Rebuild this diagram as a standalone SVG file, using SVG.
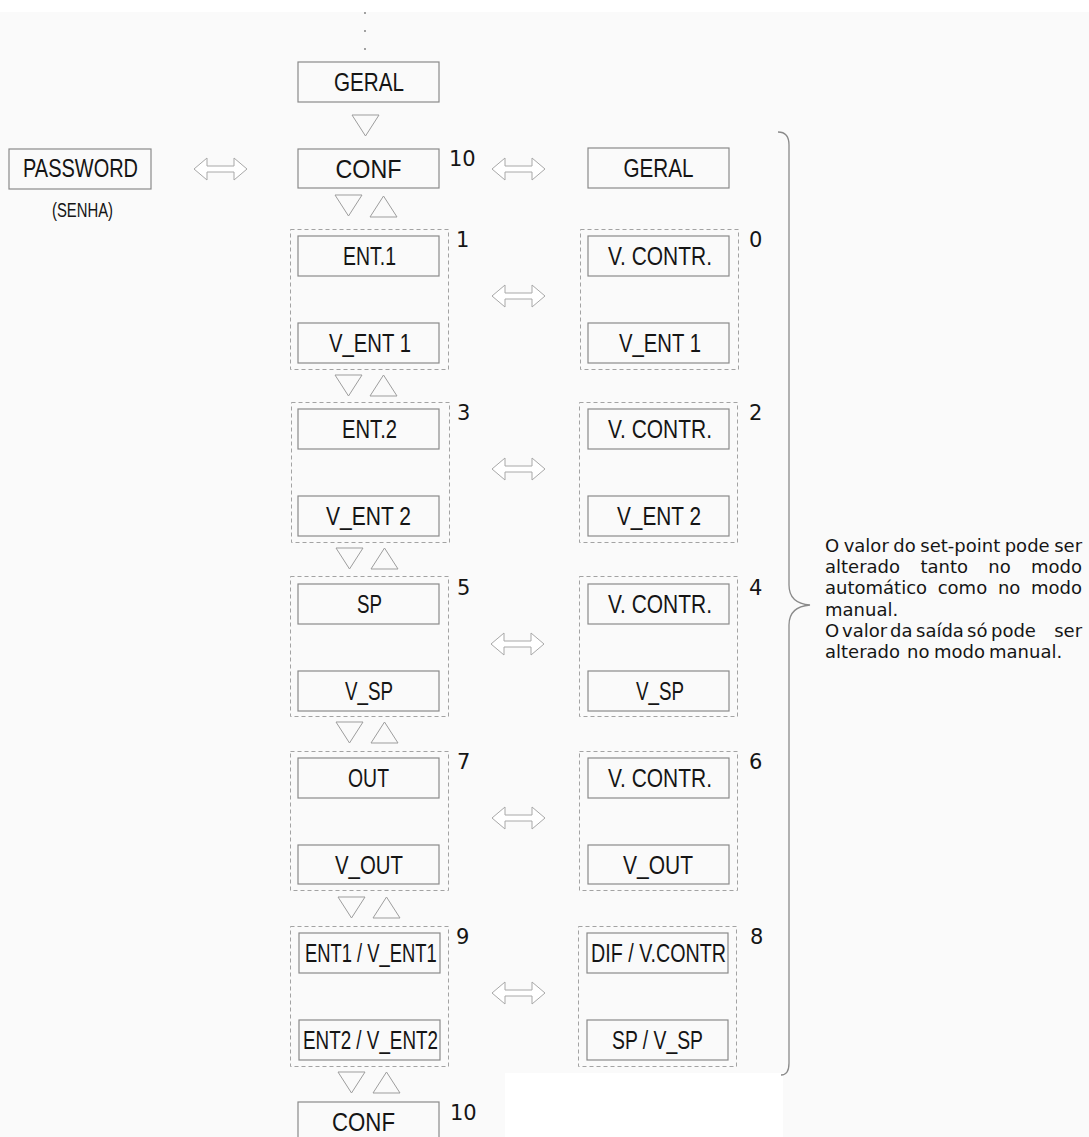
<svg xmlns="http://www.w3.org/2000/svg" width="1089" height="1137" viewBox="0 0 1089 1137">
<style>
.bg{fill:#fafafa}
.box{fill:none;stroke:#8a8a8a;stroke-width:1.2}
.grp{fill:none;stroke:#a3a3a3;stroke-width:1;stroke-dasharray:4 3}
.lbl{font-family:"Liberation Sans",Arial,sans-serif;font-size:25px;fill:#151515}
.sub{font-family:"Liberation Sans",Arial,sans-serif;font-size:20px;fill:#151515}
.num{font-family:"DejaVu Sans",Verdana,sans-serif;font-size:21px;fill:#151515}
.note{font-family:"DejaVu Sans",Verdana,sans-serif;font-size:18px;fill:#151515}
.tri{fill:none;stroke:#9d9d9d;stroke-width:1}
.dbl{fill:#ffffff;stroke:#a8a8a8;stroke-width:1}
.brace{fill:none;stroke:#8a8a8a;stroke-width:1.3}
.dot{fill:#777}
</style>
<defs>
<path id="dblarrow" d="M0,0 L13,-11 L13,-3 L40,-3 L40,-11 L53,0 L40,11 L40,3 L13,3 L13,11 Z"/>
<path id="tdown" d="M0,0 L27,0 L13.5,21 Z"/>
<path id="tup" d="M0,21 L27,21 L13.5,0 Z"/>
</defs>
<rect x="0" y="0" width="1089" height="1137" fill="#ffffff"/>
<rect class="bg" x="0" y="12" width="1089" height="1125"/>
<rect x="505" y="1073" width="278" height="64" fill="#ffffff"/>

<g id="dots">
<circle class="dot" cx="365" cy="13" r="0.9"/>
<circle class="dot" cx="365" cy="31" r="0.9"/>
<circle class="dot" cx="365" cy="49" r="0.9"/>
</g>

<g id="geral-top">
<rect class="box" x="298" y="62" width="141" height="40"/>
<text class="lbl" x="334" y="91" textLength="70" lengthAdjust="spacingAndGlyphs">GERAL</text>
</g>

<g id="conf-top">
<rect class="box" x="298" y="149" width="141" height="39"/>
<text class="lbl" x="335.5" y="178" textLength="66" lengthAdjust="spacingAndGlyphs">CONF</text>
<text class="num" x="449" y="166">10</text>
</g>

<g id="password">
<rect class="box" x="9" y="149" width="142" height="40"/>
<text class="lbl" x="23" y="177" textLength="115" lengthAdjust="spacingAndGlyphs">PASSWORD</text>
<text class="sub" x="52" y="217" textLength="61" lengthAdjust="spacingAndGlyphs">(SENHA)</text>
</g>

<g id="geral-right">
<rect class="box" x="588" y="148" width="141" height="40"/>
<text class="lbl" x="623.5" y="177" textLength="70" lengthAdjust="spacingAndGlyphs">GERAL</text>
</g>

<!-- left column screens -->
<g id="screen-1">
<rect class="grp" x="290.5" y="229.5" width="158" height="140"/>
<g id="ent1"><rect class="box" x="298" y="236" width="141" height="40"/><text class="lbl" x="343" y="265" textLength="53" lengthAdjust="spacingAndGlyphs">ENT.1</text></g>
<g id="v-ent1"><rect class="box" x="298" y="323" width="141" height="40"/><text class="lbl" x="329" y="352" textLength="82" lengthAdjust="spacingAndGlyphs">V_ENT 1</text></g>
<text class="num" x="456" y="247">1</text>
</g>

<g id="screen-3">
<rect class="grp" x="291.5" y="402.5" width="158" height="140"/>
<g id="ent2"><rect class="box" x="298" y="409" width="141" height="40"/><text class="lbl" x="342" y="438" textLength="55" lengthAdjust="spacingAndGlyphs">ENT.2</text></g>
<g id="v-ent2"><rect class="box" x="298" y="496" width="141" height="40"/><text class="lbl" x="326" y="525" textLength="85" lengthAdjust="spacingAndGlyphs">V_ENT 2</text></g>
<text class="num" x="457" y="420">3</text>
</g>

<g id="screen-5">
<rect class="grp" x="290.5" y="576.5" width="158" height="140"/>
<g id="sp"><rect class="box" x="298" y="584" width="141" height="40"/><text class="lbl" x="357" y="613" textLength="25" lengthAdjust="spacingAndGlyphs">SP</text></g>
<g id="v-sp"><rect class="box" x="298" y="671" width="141" height="40"/><text class="lbl" x="345" y="700" textLength="48" lengthAdjust="spacingAndGlyphs">V_SP</text></g>
<text class="num" x="457" y="595">5</text>
</g>

<g id="screen-7">
<rect class="grp" x="290.5" y="751.5" width="158" height="139"/>
<g id="out"><rect class="box" x="298" y="758" width="141" height="40"/><text class="lbl" x="348" y="787" textLength="41" lengthAdjust="spacingAndGlyphs">OUT</text></g>
<g id="v-out"><rect class="box" x="298" y="845" width="141" height="39"/><text class="lbl" x="335" y="874" textLength="68" lengthAdjust="spacingAndGlyphs">V_OUT</text></g>
<text class="num" x="457" y="769">7</text>
</g>

<g id="screen-9">
<rect class="grp" x="290.5" y="926.5" width="158" height="140"/>
<g id="ent1-v-ent1"><rect class="box" x="299" y="933" width="141" height="40"/><text class="lbl" transform="translate(305,962) scale(0.78,1)" x="0" y="0" textLength="169" lengthAdjust="spacingAndGlyphs">ENT1 / V_ENT1</text></g>
<g id="ent2-v-ent2"><rect class="box" x="299" y="1020" width="141" height="40"/><text class="lbl" x="303" y="1049" textLength="135" lengthAdjust="spacingAndGlyphs">ENT2 / V_ENT2</text></g>
<text class="num" x="456" y="944">9</text>
</g>

<g id="conf-bottom">
<rect class="box" x="298" y="1102" width="141" height="40"/>
<text class="lbl" x="332" y="1131" textLength="63" lengthAdjust="spacingAndGlyphs">CONF</text>
<text class="num" x="450" y="1120">10</text>
</g>

<!-- right column screens -->
<g id="screen-0">
<rect class="grp" x="580.5" y="229.5" width="158" height="140"/>
<g id="vcontr-0"><rect class="box" x="588" y="236" width="141" height="40"/><text class="lbl" x="608" y="265" textLength="104" lengthAdjust="spacingAndGlyphs">V. CONTR.</text></g>
<g id="v-ent1-r"><rect class="box" x="588" y="323" width="141" height="40"/><text class="lbl" x="619" y="352" textLength="82" lengthAdjust="spacingAndGlyphs">V_ENT 1</text></g>
<text class="num" x="749" y="247">0</text>
</g>

<g id="screen-2">
<rect class="grp" x="579.5" y="402.5" width="158" height="140"/>
<g id="vcontr-2"><rect class="box" x="588" y="409" width="141" height="40"/><text class="lbl" x="608" y="438" textLength="104" lengthAdjust="spacingAndGlyphs">V. CONTR.</text></g>
<g id="v-ent2-r"><rect class="box" x="588" y="496" width="141" height="40"/><text class="lbl" x="617" y="525" textLength="84" lengthAdjust="spacingAndGlyphs">V_ENT 2</text></g>
<text class="num" x="749" y="420">2</text>
</g>

<g id="screen-4">
<rect class="grp" x="579.5" y="576.5" width="158" height="140"/>
<g id="vcontr-4"><rect class="box" x="588" y="584" width="141" height="40"/><text class="lbl" x="608" y="613" textLength="104" lengthAdjust="spacingAndGlyphs">V. CONTR.</text></g>
<g id="v-sp-r"><rect class="box" x="588" y="671" width="141" height="40"/><text class="lbl" x="636" y="700" textLength="48" lengthAdjust="spacingAndGlyphs">V_SP</text></g>
<text class="num" x="749" y="595">4</text>
</g>

<g id="screen-6">
<rect class="grp" x="579.5" y="751.5" width="158" height="139"/>
<g id="vcontr-6"><rect class="box" x="588" y="758" width="141" height="40"/><text class="lbl" x="608" y="787" textLength="104" lengthAdjust="spacingAndGlyphs">V. CONTR.</text></g>
<g id="v-out-r"><rect class="box" x="588" y="845" width="141" height="39"/><text class="lbl" x="623" y="874" textLength="70" lengthAdjust="spacingAndGlyphs">V_OUT</text></g>
<text class="num" x="749" y="769">6</text>
</g>

<g id="screen-8">
<rect class="grp" x="578.5" y="926.5" width="158" height="140"/>
<g id="dif-vcontr"><rect class="box" x="587" y="933" width="141" height="40"/><text class="lbl" transform="translate(591,962) scale(0.78,1)" x="0" y="0" textLength="173" lengthAdjust="spacingAndGlyphs">DIF / V.CONTR</text></g>
<g id="sp-v-sp"><rect class="box" x="587" y="1020" width="141" height="40"/><text class="lbl" x="612" y="1049" textLength="91" lengthAdjust="spacingAndGlyphs">SP / V_SP</text></g>
<text class="num" x="750" y="944">8</text>
</g>

<g id="connectors">
<use href="#tdown" class="tri" x="352" y="115"/>
<use href="#tdown" class="tri" x="335" y="195"/>
<use href="#tup" class="tri" x="370" y="196"/>
<use href="#tdown" class="tri" x="335" y="375"/>
<use href="#tup" class="tri" x="370" y="375"/>
<use href="#tdown" class="tri" x="336" y="548"/>
<use href="#tup" class="tri" x="371" y="548"/>
<use href="#tdown" class="tri" x="336" y="722"/>
<use href="#tup" class="tri" x="371" y="722"/>
<use href="#tdown" class="tri" x="338" y="897"/>
<use href="#tup" class="tri" x="373" y="897"/>
<use href="#tdown" class="tri" x="338" y="1072"/>
<use href="#tup" class="tri" x="373" y="1072"/>
<use href="#dblarrow" class="dbl" x="194" y="169"/>
<use href="#dblarrow" class="dbl" x="492" y="169"/>
<use href="#dblarrow" class="dbl" x="492" y="296"/>
<use href="#dblarrow" class="dbl" x="492" y="469"/>
<use href="#dblarrow" class="dbl" x="491" y="644"/>
<use href="#dblarrow" class="dbl" x="492" y="818"/>
<use href="#dblarrow" class="dbl" x="492" y="993"/>
<path class="brace" d="M778,132 Q789,132 789,145 L789,585 C789,598 797,604 810,605 C797,606 789,612 789,625 L789,1063 Q789,1075 781,1075"/>
</g>

<g id="note">
<text class="note" y="552"><tspan x="825">O</tspan><tspan x="843.7">valor</tspan><tspan x="893.3">do</tspan><tspan x="920.3">set-point</tspan><tspan x="1004.7">pode</tspan><tspan x="1054.2">ser</tspan></text>
<text class="note" y="573.2"><tspan x="825">alterado</tspan><tspan x="920.4">tanto</tspan><tspan x="988.3">no</tspan><tspan x="1031">modo</tspan></text>
<text class="note" y="594.4"><tspan x="825">automático</tspan><tspan x="937.7">como</tspan><tspan x="997.9">no</tspan><tspan x="1031">modo</tspan></text>
<text class="note" x="825" y="615.6">manual.</text>
<text class="note" y="636.8"><tspan x="825">O</tspan><tspan x="842">valor</tspan><tspan x="890">da</tspan><tspan x="916">saída</tspan><tspan x="967">só</tspan><tspan x="991">pode</tspan><tspan x="1054.2">ser</tspan></text>
<text class="note" y="658"><tspan x="825">alterado</tspan><tspan x="907">no</tspan><tspan x="934">modo</tspan><tspan x="989">manual.</tspan></text>
</g>
</svg>
